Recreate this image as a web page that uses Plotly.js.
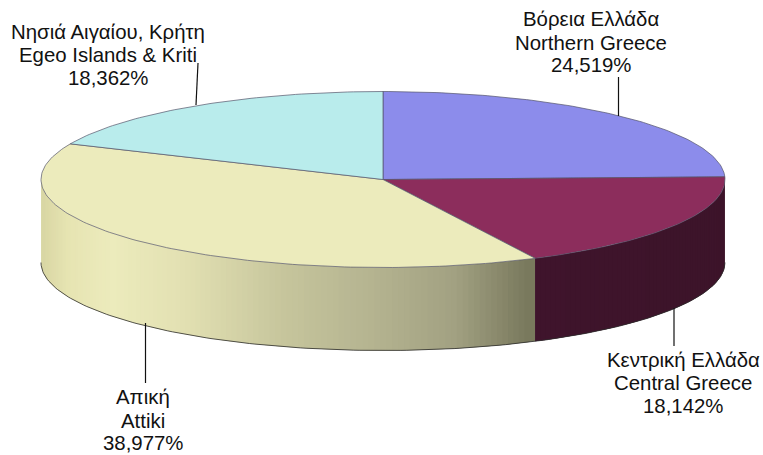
<!DOCTYPE html>
<html><head><meta charset="utf-8">
<script src="https://cdn.plot.ly/plotly-3.0.1.min.js"></script>
<style>html,body{margin:0;padding:0;background:#fff}</style></head>
<body><div id="chart" style="width:763px;height:455px"></div>
<script>
const greekNames = ['Βόρεια Ελλάδα','Κεντρική Ελλάδα','Απική','Νησιά Αιγαίου, Κρήτη'];
const englishNames = ['Northern Greece','Central Greece','Attiki','Egeo Islands & Kriti'];
const shares = [24.519,18.142,38.977,18.362];
const shareLabels = ['24,519%','18,142%','38,977%','18,362%'];
const topColors = ['#8c8ceb','#8c2d5c','#ecebbc','#b9ecec'];
const labelX = [591,683,143,108];
const labelY = [[19,43,65],[360,383,406],[397,421,443],[32,55,78]];
const leaderX = [[618.5,618.5],[674,674],[145.5,145.5],[198,196]];
const leaderY = [[77,116],[308,346],[323,383],[63,105]];

const cx=383, cy=179.5, rx=342, ry=88, depth=83;
const total = shares.reduce((a,b)=>a+b,0);
const px = a => cx + rx*Math.sin(a*Math.PI/180);
const py = a => cy - ry*Math.cos(a*Math.PI/180);
const hex = c => [1,3,5].map(i=>parseInt(c.substr(i,2),16));
function ramp(stops,x){
  for(let i=1;i<stops.length;i++){
    if(x<=stops[i][0]){
      const t=(x-stops[i-1][0])/(stops[i][0]-stops[i-1][0]);
      const a=hex(stops[i-1][1]),b=hex(stops[i][1]);
      return 'rgb('+a.map((v,k)=>Math.round(v+(b[k]-v)*t)).join(',')+')';
    }
  }
  return stops[stops.length-1][1];
}
const creamSide=[[0,'#d8d5a2'],[41,'#d8d5a2'],[70,'#e6e4b2'],[115,'#ecebbc'],[190,'#e2e0b2'],[290,'#c6c59c'],[380,'#b4b390'],[460,'#a2a182'],[535,'#78785c']];
const maroonSide=[[535,'#3f142c'],[763,'#3c1429']];

const traces=[];
const bounds=[]; let acc=0;
shares.forEach(v=>{bounds.push([acc/total*360,(acc+v)/total*360]);acc+=v;});

function addStrip(a0,a1,color){
  const xs=[],ys=[];
  for(let k=0;k<=2;k++){const a=a0+(a1-a0)*k/2;xs.push(px(a));ys.push(py(a));}
  for(let k=2;k>=0;k--){const a=a0+(a1-a0)*k/2;xs.push(px(a));ys.push(py(a)+depth);}
  xs.push(xs[0]);ys.push(ys[0]);
  traces.push({type:'scatter',mode:'lines',x:xs,y:ys,fill:'toself',fillcolor:color,line:{width:0},hoverinfo:'skip',showlegend:false});
}
// Painted from the far end inward: every strip runs to the end of its slice's
// wall, so later strips overlay earlier ones and no antialiased seam shows.
function sideStrips(from,to,stops){
  const n=Math.ceil(to-from);
  for(let k=n-1;k>=0;k--){
    const a0=from+(to-from)*k/n, a1=from+(to-from)*(k+1)/n;
    addStrip(a0,Math.min(a1+1,to),ramp(stops,px((a0+a1)/2)));
  }
}
sideStrips(bounds[2][0],270,creamSide);
sideStrips(bounds[1][0],bounds[1][1],maroonSide);
// outline of the lower rim
const rimA=[];for(let a=90;a<=270;a+=1)rimA.push(a);
traces.push({type:'scatter',mode:'lines',x:rimA.map(px),y:rimA.map(a=>py(a)+depth),line:{color:'#2b2b2b',width:0.8},hoverinfo:'skip',showlegend:false});

// top face
shares.forEach((v,i)=>{
  const xs=[cx],ys=[cy];
  const [a0,a1]=bounds[i];
  const n=Math.ceil(a1-a0);
  for(let k=0;k<=n;k++){const a=a0+(a1-a0)*k/n;xs.push(px(a));ys.push(py(a));}
  xs.push(cx);ys.push(cy);
  traces.push({type:'scatter',mode:'lines',x:xs,y:ys,fill:'toself',fillcolor:topColors[i],line:{color:'#55556a',width:0.7},hoverinfo:'skip',showlegend:false});
});
// leader lines
leaderX.forEach((lx,i)=>traces.push({type:'scatter',mode:'lines',x:lx,y:leaderY[i],line:{color:'#111',width:1.2},hoverinfo:'skip',showlegend:false}));

const annotations=[];
greekNames.forEach((g,i)=>{
  [g,englishNames[i],shareLabels[i]].forEach((t,k)=>annotations.push({
    xref:'x',yref:'y',x:labelX[i],y:labelY[i][k],text:t,showarrow:false,xanchor:'center',yanchor:'middle',
    font:{family:'Liberation Sans, Arial, sans-serif',size:20.4,color:'#111'},borderpad:0
  }));
});
Plotly.newPlot('chart',traces,{
  width:763,height:455,margin:{l:0,r:0,t:0,b:0},paper_bgcolor:'#fff',plot_bgcolor:'#fff',showlegend:false,
  xaxis:{range:[0,763],visible:false,fixedrange:true},
  yaxis:{range:[455,0],visible:false,fixedrange:true},
  annotations:annotations
},{staticPlot:true,displayModeBar:false});
</script></body></html>
